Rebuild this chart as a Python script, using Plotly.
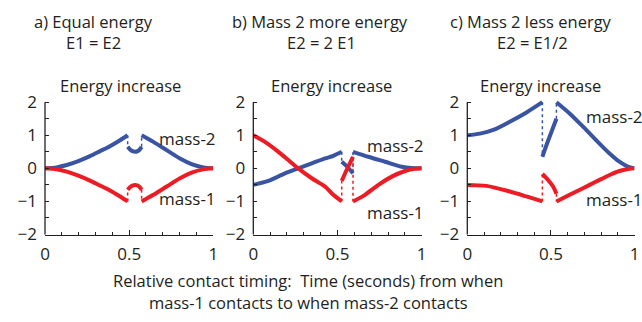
import plotly.graph_objects as go

# ---------------- data ----------------
x_ticks = [0, 0.5, 1]

# Panel a) Equal energy  (segments separated by None)
a_m2_x = [0, 0.069, 0.129, 0.198, 0.267, 0.327, 0.386, 0.446, 0.491, None,
          0.491, 0.505, 0.52, 0.535, 0.55, 0.563, 0.574, None,
          0.574, 0.644, 0.723, 0.802, 0.871, 0.941, 1.0]
a_m2_y = [0, 0.03, 0.1, 0.22, 0.37, 0.52, 0.67, 0.85, 1.0, None,
          0.65, 0.57, 0.52, 0.5, 0.52, 0.57, 0.65, None,
          1.0, 0.8, 0.55, 0.3, 0.13, 0.03, 0]
a_m1_x = list(a_m2_x)
a_m1_y = [None if v is None else -v for v in a_m2_y]
a_m2_dot_x = [0.491, 0.491, None, 0.574, 0.574]
a_m2_dot_y = [1.0, 0.65, None, 0.65, 1.0]
a_m1_dot_x = [0.491, 0.491, None, 0.574, 0.574]
a_m1_dot_y = [-1.0, -0.65, None, -0.65, -1.0]

# Panel b) Mass 2 more energy
b_m2_x = [0, 0.089, 0.188, 0.267, 0.347, 0.426, 0.475, 0.525, None,
          0.525, 0.56, 0.592, None,
          0.592, 0.683, 0.782, 0.881, 0.94, 1.0]
b_m2_y = [-0.5, -0.38, -0.15, 0, 0.15, 0.3, 0.38, 0.5, None,
          0.2, 0.04, -0.15, None,
          0.5, 0.35, 0.2, 0.05, 0.01, 0]
b_m1_x = [0, 0.069, 0.149, 0.208, 0.267, 0.347, 0.426, 0.475, 0.525, None,
          0.525, 0.554, 0.592, None,
          0.592, 0.663, 0.743, 0.822, 0.901, 0.95, 1.0]
b_m1_y = [1.0, 0.8, 0.5, 0.25, 0, -0.3, -0.55, -0.8, -1.0, None,
          -0.38, -0.05, 0.35, None,
          -1.0, -0.8, -0.5, -0.25, -0.08, -0.02, 0]
b_m2_dot_x = [0.525, 0.525, None, 0.592, 0.592]
b_m2_dot_y = [0.5, 0.2, None, -0.15, 0.5]
b_m1_dot_x = [0.525, 0.525, None, 0.592, 0.592]
b_m1_dot_y = [-1.0, -0.38, None, 0.35, -1.0]

# Panel c) Mass 2 less energy
c_m2_x = [0, 0.076, 0.155, 0.254, 0.354, 0.449, None,
          0.449, 0.477, 0.503, 0.533, None,
          0.533, 0.612, 0.692, 0.771, 0.851, 0.91, 0.96, 1.0]
c_m2_y = [1.0, 1.05, 1.16, 1.41, 1.69, 2.0, None,
          0.35, 0.75, 1.1, 1.5, None,
          2.0, 1.66, 1.26, 0.85, 0.45, 0.2, 0.05, 0]
c_m1_x = [0, 0.115, 0.254, 0.354, 0.449, None,
          0.449, 0.483, 0.513, 0.533, None,
          0.533, 0.612, 0.692, 0.771, 0.851, 0.91, 0.97, 1.0]
c_m1_y = [-0.5, -0.53, -0.7, -0.85, -1.0, None,
          -0.17, -0.35, -0.55, -0.77, None,
          -1.0, -0.8, -0.6, -0.4, -0.2, -0.08, -0.01, 0]
c_m2_dot_x = [0.449, 0.449, None, 0.533, 0.533]
c_m2_dot_y = [2.0, 0.35, None, 1.5, 2.0]
c_m1_dot_x = [0.449, 0.449, None, 0.533, 0.533]
c_m1_dot_y = [-1.0, -0.17, None, -0.77, -1.0]

panel_titles = ["a) Equal energy", "b) Mass 2 more energy", "c) Mass 2 less energy"]
panel_subtitles = ["E1 = E2", "E2 = 2 E1", "E2 = E1/2"]
plot_title = "Energy increase"
series_labels = ["mass-2", "mass-1"]
x_title_lines = ["Relative contact timing:  Time (seconds) from when",
                 "mass-1 contacts to when mass-2 contacts"]

# ---------------- styling / layout ----------------
W, H = 642, 322
BLUE = "#3a54a4"
RED = "#ed1c24"
TXT = "#231f20"
FONT = "Open Sans"

def px(x):
    return x / W

def py(y):
    return 1 - y / H

Y_BOT_PX, Y2_PX = 234.5, 102.2
unit = (Y_BOT_PX - Y2_PX) / 4.0
Y_TOP = 2.12
Y_TOP_PX = Y2_PX - (Y_TOP - 2) * unit
x_dom_px = [(45.0, 213.3), (253.3, 421.7), (467.3, 634.5)]

panels = [
    (a_m2_x, a_m2_y, a_m1_x, a_m1_y, a_m2_dot_x, a_m2_dot_y, a_m1_dot_x, a_m1_dot_y),
    (b_m2_x, b_m2_y, b_m1_x, b_m1_y, b_m2_dot_x, b_m2_dot_y, b_m1_dot_x, b_m1_dot_y),
    (c_m2_x, c_m2_y, c_m1_x, c_m1_y, c_m2_dot_x, c_m2_dot_y, c_m1_dot_x, c_m1_dot_y),
]

fig = go.Figure()
layout = dict(
    template="none",
    width=W, height=H, margin=dict(l=0, r=0, t=0, b=0, pad=0, autoexpand=False),
    paper_bgcolor="white", plot_bgcolor="white", showlegend=False,
    font=dict(family=FONT, color=TXT, size=16),
)
shapes = []
for i, (m2x, m2y, m1x, m1y, d2x, d2y, d1x, d1y) in enumerate(panels):
    n = "" if i == 0 else str(i + 1)
    xa, ya = "x" + n, "y" + n
    for (dx, dy, col) in [(d2x, d2y, BLUE), (d1x, d1y, RED)]:
        fig.add_trace(go.Scatter(x=dx, y=dy, xaxis=xa, yaxis=ya, mode="lines",
                                 line=dict(color=col, width=1.5, dash="dot"),
                                 hoverinfo="skip"))
    for (sx, sy, col) in [(m2x, m2y, BLUE), (m1x, m1y, RED)]:
        fig.add_trace(go.Scatter(x=sx, y=sy, xaxis=xa, yaxis=ya, mode="lines",
                                 line=dict(color=col, width=4, shape="spline", smoothing=0.8),
                                 connectgaps=False, hoverinfo="skip"))
    x0, x1 = x_dom_px[i]
    layout["xaxis" + n] = dict(
        domain=[px(x0), px(x1)], range=[0, 1], anchor=ya, automargin=False,
        showline=True, linecolor=TXT, linewidth=1.3, showgrid=False, zeroline=False,
        tickmode="array", tickvals=x_ticks, ticktext=[str(v) for v in x_ticks],
        ticks="inside", ticklen=5, tickwidth=1, tickcolor=TXT,
        minor=dict(tick0=0, dtick=0.1, ticks="inside", ticklen=3, tickwidth=1, tickcolor=TXT,
                   showgrid=False),
        tickfont=dict(family=FONT, size=17, color=TXT),
        ticklabelstandoff=4,
    )
    layout["yaxis" + n] = dict(
        domain=[py(Y_BOT_PX), py(Y_TOP_PX)], range=[-2, Y_TOP], anchor=xa, automargin=False,
        showline=False, showgrid=False, zeroline=False,
        tick0=0, dtick=1, ticks="inside", ticklen=4, tickwidth=1, tickcolor=TXT,
        minor=dict(tick0=0, dtick=0.5, ticks="inside", ticklen=4, tickwidth=1, tickcolor=TXT,
                   showgrid=False),
        tickfont=dict(family=FONT, size=17, color=TXT),
        ticklabelstandoff=7,
    )
    shapes.append(dict(type="line", xref="paper", yref="paper",
                       x0=px(x0), x1=px(x0), y0=py(Y_BOT_PX), y1=py(Y2_PX),
                       line=dict(color=TXT, width=1.3)))

annotations = []
def ann(text, x, y, size=16.5, xanchor="center"):
    annotations.append(dict(text=text, x=px(x), y=py(y), xref="paper", yref="paper",
                            xanchor=xanchor, yanchor="middle", showarrow=False,
                            font=dict(family=FONT, size=size, color=TXT)))

title_cx = [94, 320, 531]
sub_cx = [94, 322, 532]
inc_cx = [120, 331, 540]
for i in range(3):
    ann(panel_titles[i], title_cx[i], 21.5)
    ann(panel_subtitles[i], sub_cx[i], 43)
    ann(plot_title, inc_cx[i], 85)

m2_pos = [(157, 138), (365, 145), (584, 117)]
m1_pos = [(157, 198), (365, 212), (584, 200)]
for i in range(3):
    ann(series_labels[0], m2_pos[i][0], m2_pos[i][1], size=17, xanchor="left")
    ann(series_labels[1], m1_pos[i][0], m1_pos[i][1], size=17, xanchor="left")

ann(x_title_lines[0], 308, 280)
ann(x_title_lines[1], 308, 302)

layout["annotations"] = annotations
layout["shapes"] = shapes
fig.update_layout(**layout)
fig.write_html(
    "out.html",
    config={"displayModeBar": False, "staticPlot": True},
    post_script=("document.documentElement.style.margin='0';"
                 "document.documentElement.style.overflow='hidden';"
                 "document.body.style.margin='0';"
                 "document.body.style.overflow='hidden';"),
)
